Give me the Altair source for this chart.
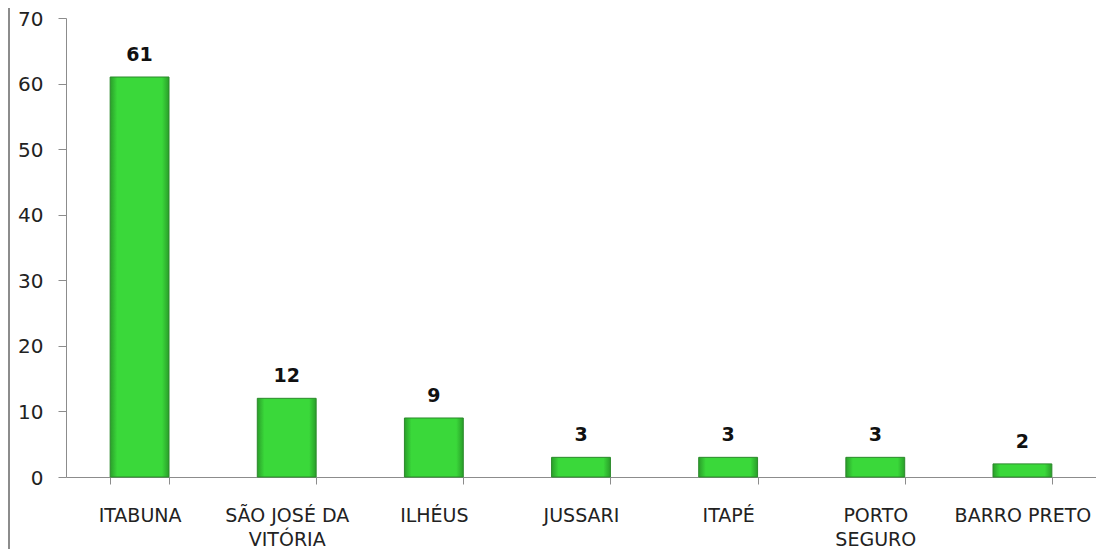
import altair as alt
import pandas as pd

categories = ["ITABUNA", "SÃO JOSÉ DA\nVITÓRIA", "ILHÉUS", "JUSSARI", "ITAPÉ", "PORTO\nSEGURO", "BARRO PRETO"]
values = [61, 12, 9, 3, 3, 3, 2]
y_ticks = [0, 10, 20, 30, 40, 50, 60, 70]

df = pd.DataFrame({"municipio": categories, "n": values})

FONT = "DejaVu Sans"

x_enc = alt.X(
    "municipio:N",
    sort=categories,
    scale=alt.Scale(paddingInner=0.6, paddingOuter=0.3),
    axis=alt.Axis(
        title=None,
        labelAngle=0,
        labelExpr="split(datum.label, '\\n')",
        labelFont=FONT,
        labelFontSize=19,
        labelColor="#222222",
        labelPadding=22,
        labelLineHeight=24,
        labelBaseline="top",
        tickBand="extent",
        tickSize=7,
        tickColor="#8c8c8c",
        domainColor="#8c8c8c",
        labelFlush=False,
        labelOverlap=False,
    ),
)

y_enc = alt.Y(
    "n:Q",
    scale=alt.Scale(domain=[0, 70], nice=False),
    axis=alt.Axis(
        title=None,
        values=y_ticks,
        grid=False,
        labelFont=FONT,
        labelFontSize=20,
        labelColor="#222222",
        labelPadding=15,
        labelBaseline="alphabetic",
        labelOffset=7,
        tickSize=8,
        tickColor="#8c8c8c",
        domainColor="#8c8c8c",
    ),
)

bar_fill = alt.Gradient(
    gradient="linear",
    x1=0, x2=1, y1=0, y2=0,
    stops=[
        alt.GradientStop(color="#2a9e2a", offset=0),
        alt.GradientStop(color="#3ad83a", offset=0.12),
        alt.GradientStop(color="#3ad83a", offset=0.88),
        alt.GradientStop(color="#2a9e2a", offset=1),
    ],
)

bars = alt.Chart(df).mark_bar(
    fill=bar_fill, stroke="#2b8a2b", strokeWidth=1
).encode(x=x_enc, y=y_enc)

labels = alt.Chart(df).mark_text(
    font=FONT, fontSize=19, fontWeight="bold", color="#111111",
    baseline="bottom", dy=-12
).encode(
    x=alt.X("municipio:N", sort=categories),
    y=alt.Y("n:Q"),
    text=alt.Text("n:Q"),
)

border = alt.Chart(df).mark_rule(color="#8c8c8c", strokeWidth=2).encode(
    x=alt.value(-57), y=alt.value(-10), y2=alt.value(531)
)

chart = alt.layer(bars, labels, border).properties(
    width=1030,
    height=459,
    autosize=alt.AutoSizeParams(type="none"),
    padding={"left": 58, "top": 10, "right": 0, "bottom": 72},
).configure_view(stroke=None)

chart.save("out.html", embed_options={"renderer": "svg", "actions": False})
